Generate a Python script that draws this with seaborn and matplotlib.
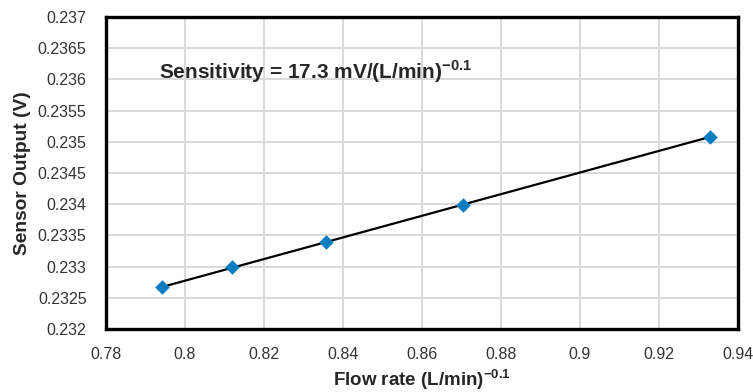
import matplotlib
matplotlib.use('Agg')
import matplotlib.pyplot as plt
import seaborn as sns
import pandas as pd

# data
flow = [0.7942, 0.8119, 0.8357, 0.8704, 0.9329]
output = [0.23267, 0.23299, 0.23339, 0.23399, 0.23508]
xticks = [0.78, 0.8, 0.82, 0.84, 0.86, 0.88, 0.9, 0.92, 0.94]
yticks = [0.232, 0.2325, 0.233, 0.2335, 0.234, 0.2345, 0.235, 0.2355, 0.236, 0.2365, 0.237]

sns.set_style('white')
plt.rcParams['font.family'] = ['Liberation Sans', 'DejaVu Sans']
plt.rcParams['mathtext.fontset'] = 'custom'
plt.rcParams['mathtext.rm'] = 'Liberation Sans'
plt.rcParams['mathtext.bf'] = 'Liberation Sans:bold'

df = pd.DataFrame({'flow': flow, 'output': output})

fig = plt.figure(figsize=(7.53, 3.92), dpi=100)
ax = fig.add_axes([0.1408, 0.1607, 0.8392, 0.7959])

sns.regplot(x='flow', y='output', data=df, ci=None, ax=ax, marker='D',
            scatter_kws=dict(s=55, color='#0a7cc4', zorder=3, linewidths=0, alpha=1),
            line_kws=dict(color='black', lw=1.6, zorder=2))

ax.set_xlim(0.78, 0.94)
ax.set_ylim(0.232, 0.237)
ax.set_xticks(xticks)
ax.set_yticks(yticks)
ax.set_xticklabels([f'{t:g}' for t in xticks], fontsize=11.5, color='#333333')
ax.set_yticklabels([f'{t:g}' for t in yticks], fontsize=11.5, color='#333333')
ax.grid(True, color='#d9d9d9', lw=1.4)
ax.set_axisbelow(True)
for s in ax.spines.values():
    s.set_color('black')
    s.set_linewidth(2.4)
ax.tick_params(axis='both', length=3, color='#999999')
ax.tick_params(axis='x', pad=10)
ax.tick_params(axis='y', pad=11)

ax.set_xlabel(r'Flow rate (L/min)$^{\mathbf{-0.1}}$', fontsize=13.5, fontweight='bold', labelpad=4)
ax.set_ylabel('Sensor Output (V)', fontsize=13.8, fontweight='bold', labelpad=5)
ax.text(0.7935, 0.23612, r'Sensitivity = 17.3 mV/(L/min)$^{\mathbf{-0.1}}$',
        fontsize=15, fontweight='bold', va='center', ha='left')

fig.savefig('out.png', dpi=100)
